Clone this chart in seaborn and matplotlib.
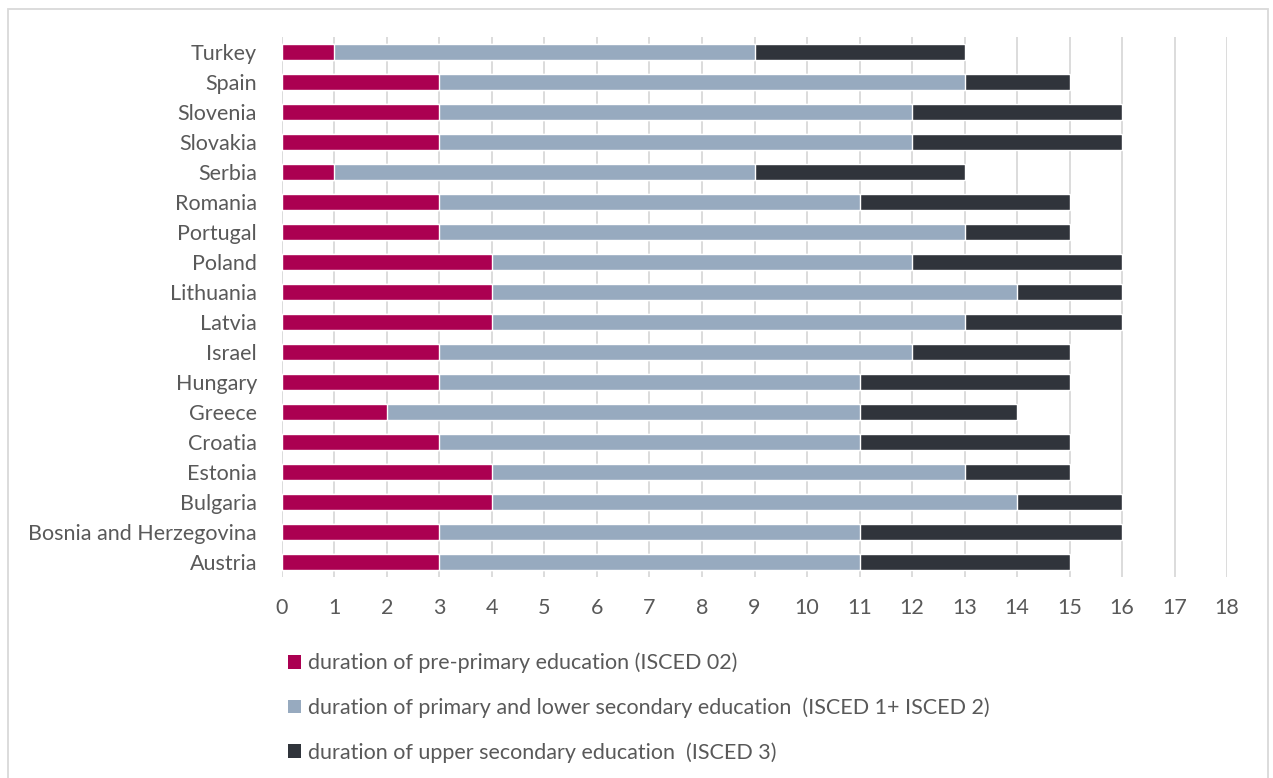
import matplotlib
matplotlib.use("Agg")
import matplotlib.pyplot as plt
import seaborn as sns
import pandas as pd
import numpy as np
from matplotlib.patches import Patch, Rectangle

# --- data (top to bottom as in the chart) ---------------------------------
countries = ["Turkey", "Spain", "Slovenia", "Slovakia", "Serbia", "Romania",
             "Portugal", "Poland", "Lithuania", "Latvia", "Israel", "Hungary",
             "Greece", "Croatia", "Estonia", "Bulgaria",
             "Bosnia and Herzegovina", "Austria"]
pre_primary = [1, 3, 3, 3, 1, 3, 3, 4, 4, 4, 3, 3, 2, 3, 4, 4, 3, 3]
primary_lower = [8, 10, 9, 9, 8, 8, 10, 8, 10, 9, 9, 8, 9, 8, 9, 10, 8, 8]
upper_secondary = [4, 2, 4, 4, 4, 4, 2, 4, 2, 3, 3, 4, 3, 4, 2, 2, 5, 4]

series_labels = [
    "duration of pre-primary education (ISCED 02)",
    "duration of primary and lower secondary education  (ISCED 1+ ISCED 2)",
    "duration of upper secondary education  (ISCED 3)",
]
colors = ["#AB0051", "#97AABF", "#30343B"]

df = pd.DataFrame({
    "country": countries,
    "pre": pre_primary,
    "primary": primary_lower,
    "upper": upper_secondary,
})
df["cum1"] = df["pre"]
df["cum2"] = df["pre"] + df["primary"]
df["cum3"] = df["cum2"] + df["upper"]

sns.set_style("white")
plt.rcParams["font.family"] = ["Lato", "DejaVu Sans"]
text_color = "#595959"

fig = plt.figure(figsize=(12.73, 7.78), dpi=100)
ax = fig.add_axes([0.2215, 0.2584, 0.7424, 0.694])

# stacked bars: draw cumulative totals from the longest to the shortest
for col, color in zip(["cum3", "cum2", "cum1"], colors[::-1]):
    sns.barplot(data=df, x=col, y="country", order=countries, orient="h",
                color=color, saturation=1, width=0.53, ax=ax, zorder=3)

ax.set_xlim(0, 18)
ax.set_ylim(len(countries) - 0.5, -0.5)
ax.set_xticks(np.arange(0, 19, 1))
ax.grid(axis="x", color="#D9D9D9", linewidth=1.3, zorder=0)
ax.grid(axis="y", visible=False)
ax.set_axisbelow(True)
for s in ax.spines.values():
    s.set_visible(False)
ax.set_xlabel("")
ax.set_ylabel("")
ax.tick_params(axis="both", length=0, labelsize=15.5, colors=text_color)
ax.tick_params(axis="x", pad=15)
ax.tick_params(axis="y", pad=18)

handles = [Patch(facecolor=c, edgecolor="none") for c in colors]
leg = fig.legend(handles, series_labels, loc="upper left",
                 bbox_to_anchor=(0.226, 0.161), frameon=False,
                 fontsize=15.5, labelcolor=text_color, handlelength=0.6,
                 handleheight=0.6, handletextpad=0.35, labelspacing=1.12,
                 borderaxespad=0, borderpad=0)

# outer chart border
fig.patches.append(Rectangle((8 / 1273, -0.05), 1260 / 1273, 1.05 - 9 / 778,
                             transform=fig.transFigure, fill=False,
                             edgecolor="#D9D9D9", linewidth=1.3))

fig.savefig("out.png", dpi=100)
